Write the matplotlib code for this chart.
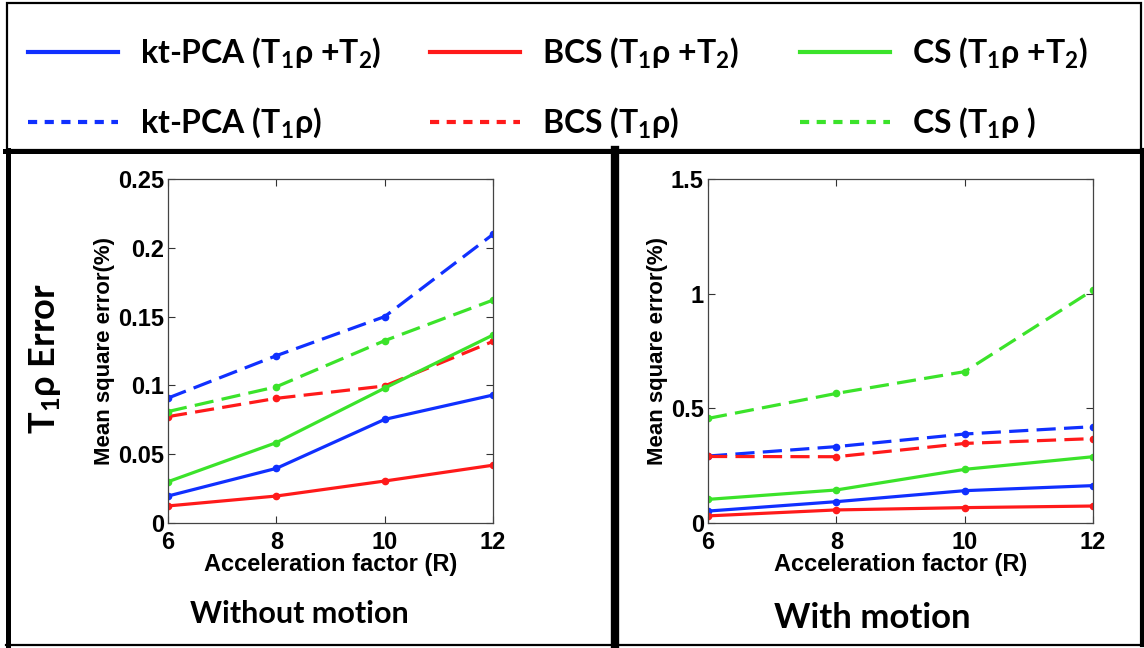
import matplotlib
matplotlib.use("Agg")
import matplotlib.pyplot as plt
from matplotlib.patches import Rectangle
from matplotlib.lines import Line2D

plt.rcParams['mathtext.fontset'] = 'custom'
plt.rcParams['mathtext.rm'] = 'Lato:bold'
plt.rcParams['mathtext.bf'] = 'Lato:bold'
plt.rcParams['mathtext.it'] = 'Lato:bold'

# ---------------- data ----------------
R = [6, 8, 10, 12]

# Without motion
nm_kt_t1t2 = [0.0196, 0.0397, 0.0753, 0.093]
nm_bcs_t1t2 = [0.0124, 0.0196, 0.0305, 0.042]
nm_cs_t1t2 = [0.030, 0.0584, 0.098, 0.1366]
nm_kt_t1 = [0.0908, 0.1216, 0.150, 0.2098]
nm_bcs_t1 = [0.0773, 0.0906, 0.0996, 0.132]
nm_cs_t1 = [0.081, 0.099, 0.1325, 0.162]

# With motion
wm_kt_t1t2 = [0.052, 0.093, 0.141, 0.163]
wm_bcs_t1t2 = [0.031, 0.057, 0.067, 0.074]
wm_cs_t1t2 = [0.103, 0.144, 0.234, 0.289]
wm_kt_t1 = [0.292, 0.333, 0.388, 0.420]
wm_bcs_t1 = [0.290, 0.289, 0.347, 0.368]
wm_cs_t1 = [0.456, 0.565, 0.660, 1.016]

left_yticks = [0, 0.05, 0.1, 0.15, 0.2, 0.25]
left_yticklabels = ['0', '0.05', '0.1', '0.15', '0.2', '0.25']
right_yticks = [0, 0.5, 1, 1.5]
right_yticklabels = ['0', '0.5', '1', '1.5']
xticklabels = ['6', '8', '10', '12']

labels = [r'kt-PCA (T$_{1}$ρ +T$_{2}$)', r'kt-PCA (T$_{1}$ρ)',
          r'BCS (T$_{1}$ρ +T$_{2}$)', r'BCS (T$_{1}$ρ)',
          r'CS (T$_{1}$ρ +T$_{2}$)', r'CS (T$_{1}$ρ )']

BLUE = '#1030ff'
RED = '#ff1a1a'
GREEN = '#3be32a'

W, H = 1144, 648
fig = plt.figure(figsize=(W / 100, H / 100), dpi=100)
fig.patch.set_facecolor('white')


def fx(px):
    return px / W


def fy(py):
    return 1 - py / H


ax1 = fig.add_axes([fx(168), fy(523), fx(493) - fx(168), (523 - 179) / H])
ax2 = fig.add_axes([fx(708), fy(523), fx(1093) - fx(708), (523 - 179) / H])

tickfont = dict(family='Liberation Sans', weight='bold', size=17)


def draw(ax, kt12, bcs12, cs12, kt1, bcs1, cs1, ymax, yt, ytl):
    lw = 2.3
    ms = 4.5
    dash = (0, (6, 2.6))
    hs = []
    hs.append(ax.plot(R, kt12, '-', color=BLUE, lw=lw, marker='o', ms=ms)[0])
    hs.append(ax.plot(R, kt1, linestyle=dash, color=BLUE, lw=lw, marker='o', ms=ms)[0])
    hs.append(ax.plot(R, bcs12, '-', color=RED, lw=lw, marker='o', ms=ms)[0])
    hs.append(ax.plot(R, bcs1, linestyle=dash, color=RED, lw=lw, marker='o', ms=ms)[0])
    hs.append(ax.plot(R, cs12, '-', color=GREEN, lw=lw, marker='o', ms=ms)[0])
    hs.append(ax.plot(R, cs1, linestyle=dash, color=GREEN, lw=lw, marker='o', ms=ms)[0])
    ax.set_xlim(6, 12)
    ax.set_ylim(0, ymax)
    ax.set_xticks(R)
    ax.set_xticklabels(xticklabels, fontdict=tickfont)
    ax.set_yticks(yt)
    ax.set_yticklabels(ytl, fontdict=tickfont)
    ax.tick_params(direction='in', top=True, right=True, length=5, width=0.8,
                   color='#333333')
    ax.tick_params(axis='x', pad=6)
    ax.tick_params(axis='y', pad=3)
    for s in ax.spines.values():
        s.set_color('#444444')
        s.set_linewidth(0.9)
    ax.set_xlabel('Acceleration factor (R)', family='Liberation Sans', weight='bold',
                  size=17, labelpad=-1)
    ax.set_ylabel('Mean square error(%)', family='Liberation Sans', weight='bold',
                  size=16, labelpad=2)
    return hs


handles = draw(ax1, nm_kt_t1t2, nm_bcs_t1t2, nm_cs_t1t2, nm_kt_t1, nm_bcs_t1, nm_cs_t1,
               0.25, left_yticks, left_yticklabels)
draw(ax2, wm_kt_t1t2, wm_bcs_t1t2, wm_cs_t1t2, wm_kt_t1, wm_bcs_t1, wm_cs_t1,
     1.5, right_yticks, right_yticklabels)

# legend: one column per method, placed independently
col_x = [28, 430, 800]
for i, x0 in enumerate(col_x):
    hh = []
    for h in handles[2 * i:2 * i + 2]:
        ls = '-' if h.get_linestyle() == '-' else (0, (2.2, 1.8))
        hh.append(Line2D([], [], color=h.get_color(), lw=3, linestyle=ls))
    leg = fig.legend(hh, labels[2 * i:2 * i + 2], loc='center left',
                     bbox_to_anchor=(fx(x0), fy(88)), frameon=False,
                     prop=dict(family='Lato', weight='bold', size=23),
                     handlelength=2.82, handletextpad=0.69,
                     labelspacing=1.1, borderaxespad=0, borderpad=0)

# borders
fig.add_artist(Rectangle((fx(7), fy(150)), fx(1141) - fx(7), (150 - 3) / H,
                         fill=False, ec='black', lw=1.6, transform=fig.transFigure))
fig.add_artist(Line2D([fx(5), fx(1143)], [fy(150.5), fy(150.5)], color='black', lw=3.6,
                      transform=fig.transFigure))
fig.add_artist(Line2D([fx(8), fx(8)], [fy(150), fy(645)], color='black', lw=3.6,
                      transform=fig.transFigure))
fig.add_artist(Line2D([fx(614.5), fx(614.5)], [fy(150), fy(645)], color='black', lw=6,
                      transform=fig.transFigure))
fig.add_artist(Line2D([fx(1141.5), fx(1141.5)], [fy(150), fy(645)], color='black', lw=3,
                      transform=fig.transFigure))
fig.add_artist(Line2D([fx(6), fx(1143)], [fy(645), fy(645)], color='black', lw=1.6,
                      transform=fig.transFigure))

fig.text(fx(45), fy(359), r'T$_{1}$ρ Error', rotation=90, ha='center', va='center',
         family='Lato', weight='bold', size=26)
fig.text(fx(299), fy(614), 'Without motion', ha='center', va='center',
         family='Lato', weight='bold', size=22)
fig.text(fx(872), fy(618), 'With motion', ha='center', va='center',
         family='Lato', weight='bold', size=25)

fig.savefig('out.png', dpi=100, facecolor='white')
